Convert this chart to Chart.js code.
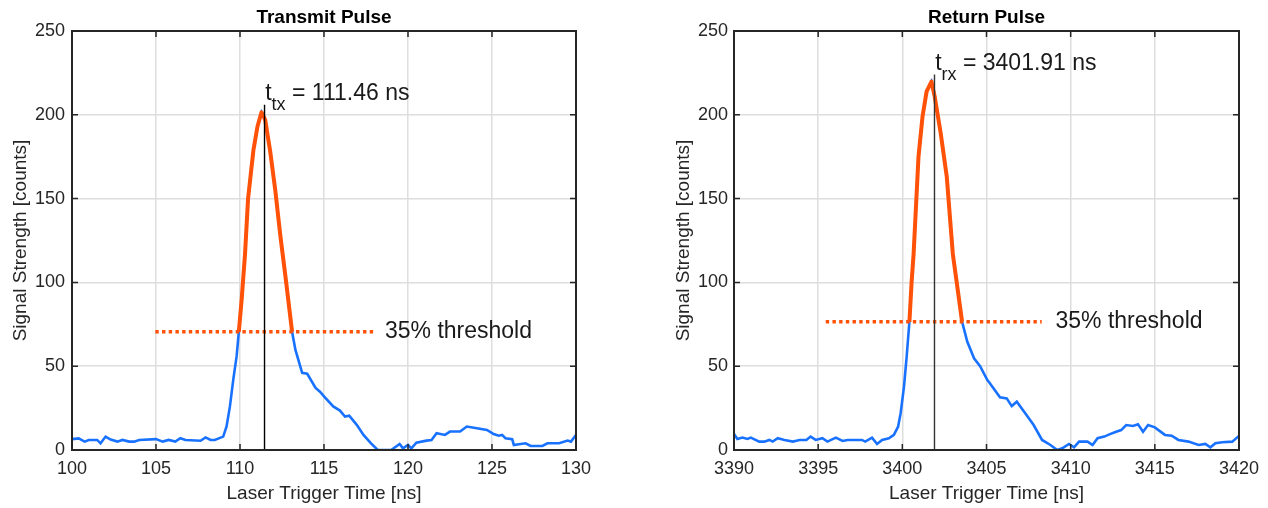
<!DOCTYPE html>
<html>
<head>
<meta charset="utf-8">
<script src="https://cdn.jsdelivr.net/npm/chart.js@4.4.1/dist/chart.umd.min.js"></script>
<style>
  html, body { margin: 0; padding: 0; background: #fff; }
  .pane { position: absolute; top: 0; width: 634px; height: 508px; }
</style>
</head>
<body>
<div class="pane" style="left:0"><canvas id="txChart"></canvas></div>
<div class="pane" style="left:634px"><canvas id="rxChart"></canvas></div>
<script>
// transmit pulse samples [ns], [counts]
const txTime = [
  100, 100.4, 100.75, 101, 101.5, 101.7, 102, 102.3, 102.7, 103, 103.4, 103.7, 104,
  105, 105.4, 105.75, 106.15, 106.45, 106.75, 107.65, 107.95, 108.25, 108.5, 109.0,
  109.2, 109.4, 109.6, 109.8, 109.93, 110.1, 110.3, 110.48, 110.8, 111.04, 111.28,
  111.5, 111.8, 112.1, 112.4, 112.7, 113.1, 113.3, 113.7, 114.0, 114.5, 114.76, 115.0,
  115.55, 115.95, 116.25, 116.5, 116.95, 117.35, 117.8, 118.2, 119.0, 119.5, 119.7,
  120.0, 120.2, 120.5, 121.1, 121.4, 121.7, 122.2, 122.5, 123.1, 123.5, 124.1, 124.7,
  125.1, 125.4, 125.6, 125.8, 126.2, 126.3, 126.7, 127.0, 127.3, 128.0, 128.3, 129.0,
  129.5, 129.7, 130.0
];
const txCounts = [
  6.5, 6.9, 5, 6, 6, 4, 8, 6.2, 5, 6, 5, 5, 6,
  6.5, 5, 6, 5, 7, 6, 5.5, 7.5, 6, 6, 8,
  14, 26, 42, 56, 70.5, 90, 117, 150, 179, 193, 201.5,
  197, 178, 155, 128, 104, 70.5, 59.7, 46, 45.5, 37, 34.8, 32,
  26, 23.5, 20, 20.5, 15, 9, 4, 0, 0, 3.6, 1,
  3, 1, 4.4, 5.6, 6, 10, 9, 11, 11, 14, 13, 12,
  9.5, 8.5, 9, 7, 6.5, 3, 3.6, 4, 2.4, 2.4, 4, 4,
  5.6, 5, 9
];

// return pulse samples [ns], [counts]
const rxTime = [
  3390.0, 3390.2, 3390.5, 3390.8, 3391.0, 3391.5, 3391.8, 3392.1, 3392.3, 3392.6,
  3393.0, 3393.5, 3393.9, 3394.3, 3394.55, 3394.85, 3395.25, 3395.55, 3396.05, 3396.45,
  3396.75, 3397.6, 3397.8, 3398.2, 3398.5, 3398.8, 3399.2, 3399.5, 3399.75, 3399.9,
  3400.1, 3400.26, 3400.42, 3400.55, 3400.67, 3400.96, 3401.2, 3401.44, 3401.73, 3401.92,
  3402.28, 3402.64, 3403.0, 3403.55, 3403.86, 3404.26, 3404.62, 3405.05, 3405.2, 3405.8,
  3406.2, 3406.5, 3406.8, 3407.3, 3407.8, 3408.3, 3408.8, 3409.2, 3409.5, 3409.9,
  3410.2, 3410.5, 3411.0, 3411.3, 3411.6, 3412.0, 3412.3, 3412.7, 3413.0, 3413.3,
  3413.7, 3414.0, 3414.3, 3414.6, 3415.0, 3415.6, 3416.0, 3416.4, 3417.0, 3417.6,
  3418.0, 3418.3, 3418.6, 3419.0, 3419.6, 3420.0
];
const rxCounts = [
  9.5, 6.6, 7.4, 6.6, 7.4, 5, 5, 6, 5, 7,
  6, 5, 6, 6, 8, 6, 7, 5, 7.4, 5.4,
  6, 6, 5, 7.4, 3.6, 6, 7, 9, 14, 22,
  38, 56, 76.5, 100, 117, 175, 199, 213.8, 219.8, 211,
  189, 163, 117, 76.5, 64.6, 54.7, 50, 41.7, 39.8, 31.4,
  30.8, 26.2, 28.8, 21.9, 14.9, 6, 3, 0, 1, 3.6,
  1.6, 5, 5, 3, 7, 8, 9.3, 10.9, 11.9, 14.9,
  14.3, 15.3, 10.9, 14.9, 13.5, 9, 8.5, 6, 5, 3,
  3.6, 1.6, 4, 4.6, 5, 8.4
];

// threshold level, dotted segment ends, pulse time and marker height
const txThreshold = 70.5;
const txThreshSpan = [104.96, 117.94];
const txPeak = [111.46, 206];
const rxThreshold = 76.5;
const rxThreshSpan = [3395.45, 3408.28];
const rxPeak = [3401.91, 224];

// axis ranges and tick steps
const txRange = [100, 130];
const rxRange = [3390, 3420];
const countRange = [0, 250];
const timeStep = 5;
const countStep = 50;

// annotation texts, anchored in data units [x, y]
const txTexts = ["Transmit Pulse", "tx", " = 111.46 ns", "35% threshold"];
const rxTexts = ["Return Pulse", "rx", " = 3401.91 ns", "35% threshold"];
const txLabelAt = [111.5, 208.8];
const rxLabelAt = [3401.95, 226.7];
const txThreshTextAt = [118.63, 70.5];
const rxThreshTextAt = [3409.1, 76.5];

const FONT = "'Liberation Sans', Arial, Helvetica, sans-serif";
const BLUE = "#1872ff";
const ORANGE = "#ff5208";
const INK = "#262626";

Chart.defaults.font.family = FONT;
Chart.defaults.color = INK;
Chart.defaults.animation = false;

function xy(xs, ys) {
  return xs.map((x, i) => ({ x: x, y: ys[i] }));
}

// box, inward ticks and text like a matlab axes
const matlabBox = {
  id: "matlabBox",
  afterDatasetsDraw(chart, args, opts) {
    const { ctx, chartArea: a, scales } = chart;
    const sx = scales.x;
    const sy = scales.y;
    ctx.save();
    ctx.strokeStyle = INK;
    ctx.lineWidth = 1.5;
    ctx.beginPath();
    sx.ticks.forEach((t) => {
      const p = sx.getPixelForValue(t.value);
      ctx.moveTo(p, a.bottom);
      ctx.lineTo(p, a.bottom - 6);
      ctx.moveTo(p, a.top);
      ctx.lineTo(p, a.top + 6);
    });
    sy.ticks.forEach((t) => {
      const p = sy.getPixelForValue(t.value);
      ctx.moveTo(a.left, p);
      ctx.lineTo(a.left + 6, p);
      ctx.moveTo(a.right, p);
      ctx.lineTo(a.right - 6, p);
    });
    ctx.stroke();
    ctx.lineWidth = 2;
    ctx.strokeRect(a.left, a.top, a.right - a.left, a.bottom - a.top);

    //title
    ctx.fillStyle = "#000";
    ctx.font = "bold 19px " + FONT;
    ctx.textAlign = "center";
    ctx.textBaseline = "middle";
    ctx.fillText(opts.texts[0], (a.left + a.right) / 2, 18);

    //peak label with subscript
    ctx.fillStyle = "#1a1a1a";
    ctx.textAlign = "left";
    ctx.textBaseline = "alphabetic";
    let lx = sx.getPixelForValue(opts.labelAt[0]);
    const ly = sy.getPixelForValue(opts.labelAt[1]);
    ctx.font = "23px " + FONT;
    ctx.fillText("t", lx, ly);
    lx += ctx.measureText("t").width;
    ctx.font = "18px " + FONT;
    ctx.fillText(opts.texts[1], lx, ly + 10);
    lx += ctx.measureText(opts.texts[1]).width;
    ctx.font = "23px " + FONT;
    ctx.fillText(opts.texts[2], lx, ly);

    //threshold label
    ctx.textBaseline = "middle";
    ctx.fillText(
      opts.texts[3],
      sx.getPixelForValue(opts.threshTextAt[0]),
      sy.getPixelForValue(opts.threshTextAt[1])
    );
    ctx.restore();
  },
};

function drawPulseChart(id, time, counts, threshold, span, peak, range, texts, labelAt, threshTextAt, box) {
  //data
  const pulse = xy(time, counts).filter((p) => p.y >= threshold);
  const data = {
    datasets: [
      {
        data: xy(time, counts),
        borderColor: BLUE,
        borderWidth: 2.6,
        order: 4,
      },
      {
        data: xy(span, [threshold, threshold]),
        borderColor: ORANGE,
        borderWidth: 3.5,
        borderDash: [3.4, 3.3],
        borderCapStyle: "butt",
        order: 3,
      },
      {
        data: pulse,
        borderColor: ORANGE,
        borderWidth: 4,
        borderJoinStyle: "round",
        order: 2,
      },
      {
        data: xy([peak[0], peak[0]], [0, peak[1]]),
        borderColor: box.lineColor,
        borderWidth: 1.4,
        order: 1,
      },
    ],
  };

  //config
  const config = {
    type: "scatter",
    data: data,
    plugins: [matlabBox],
    options: {
      responsive: true,
      maintainAspectRatio: false,
      showLine: true,
      elements: {
        point: { radius: 0, hoverRadius: 0 },
        line: { tension: 0 },
      },
      layout: {
        padding: { top: 31, right: box.right, bottom: 0, left: 0 },
      },
      plugins: {
        legend: { display: false },
        tooltip: { enabled: false },
        matlabBox: { texts: texts, labelAt: labelAt, threshTextAt: threshTextAt },
      },
      scales: {
        x: {
          type: "linear",
          min: range[0],
          max: range[1],
          afterFit: (s) => { s.height = 58; },
          border: { display: false },
          grid: { color: "#dedede", lineWidth: 1.5, drawTicks: false },
          ticks: {
            stepSize: timeStep,
            padding: 8,
            color: INK,
            font: { size: 18, lineHeight: 1.2 },
            maxRotation: 0,
            callback: (v) => String(v),
          },
          title: {
            display: true,
            text: "Laser Trigger Time [ns]",
            color: INK,
            font: { size: 19, lineHeight: 1.2 },
            padding: { top: 0, bottom: 3 },
          },
        },
        y: {
          min: countRange[0],
          max: countRange[1],
          afterFit: (s) => { s.width = box.left; },
          border: { display: false },
          grid: { color: "#dedede", lineWidth: 1.5, drawTicks: false },
          ticks: {
            stepSize: countStep,
            padding: box.tickPad,
            color: INK,
            font: { size: 18, lineHeight: 1.2 },
            callback: (v) => String(v),
          },
          title: {
            display: true,
            text: "Signal Strength [counts]",
            color: INK,
            font: { size: 19, lineHeight: 1.2 },
            padding: { top: box.titlePad, bottom: 0 },
          },
        },
      },
    },
  };
  new Chart(document.getElementById(id), config);
}

drawPulseChart("txChart", txTime, txCounts, txThreshold, txThreshSpan, txPeak, txRange,
  txTexts, txLabelAt, txThreshTextAt,
  { left: 72, right: 58, tickPad: 7, titlePad: 9, lineColor: "#000" });
drawPulseChart("rxChart", rxTime, rxCounts, rxThreshold, rxThreshSpan, rxPeak, rxRange,
  rxTexts, rxLabelAt, rxThreshTextAt,
  { left: 100, right: 29, tickPad: 6, titlePad: 38, lineColor: "#333" });
</script>
</body>
</html>
